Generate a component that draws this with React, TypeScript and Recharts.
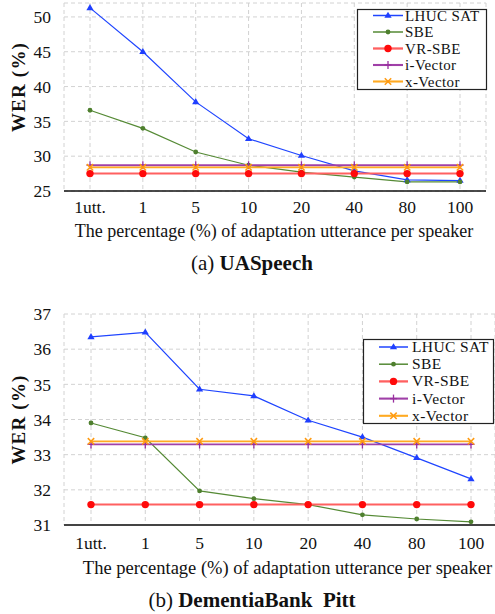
import React from 'react';
import { LineChart, Line, XAxis, YAxis, CartesianGrid, Legend, Label } from 'recharts';

const categories = ['1utt.', '1', '5', '10', '20', '40', '80', '100'];

// (a) UASpeech
const uaLhucSat = [51.3, 45.0, 37.8, 32.5, 30.1, 27.9, 26.6, 26.5];
const uaSbe = [36.6, 34.0, 30.6, 28.7, 27.7, 27.0, 26.3, 26.3];
const uaVrSbe = [27.5, 27.5, 27.5, 27.5, 27.5, 27.5, 27.5, 27.5];
const uaIVector = [28.7, 28.7, 28.7, 28.7, 28.7, 28.7, 28.7, 28.7];
const uaXVector = [28.4, 28.4, 28.4, 28.4, 28.4, 28.4, 28.4, 28.4];
const uaTicks = [25, 30, 35, 40, 45, 50];

// (b) DementiaBank Pitt
const dbLhucSat = [36.35, 36.48, 34.86, 34.67, 33.98, 33.5, 32.91, 32.31];
const dbSbe = [33.9, 33.48, 31.97, 31.75, 31.58, 31.29, 31.17, 31.09];
const dbVrSbe = [31.58, 31.58, 31.58, 31.58, 31.58, 31.58, 31.58, 31.58];
const dbIVector = [33.29, 33.29, 33.29, 33.29, 33.29, 33.29, 33.29, 33.29];
const dbXVector = [33.38, 33.38, 33.38, 33.38, 33.38, 33.38, 33.38, 33.38];
const dbTicks = [31, 32, 33, 34, 35, 36, 37];

const seriesNames = ['LHUC SAT', 'SBE', 'VR-SBE', 'i-Vector', 'x-Vector'];

const FONT = "'Liberation Serif', 'Times New Roman', serif";

type Shape = 'triangle' | 'dot' | 'circle' | 'plus' | 'cross';
const seriesStyle: { key: string; color: string; line: string; width: number; shape: Shape }[] = [
  { key: 'lhuc', color: '#1f3fff', line: '#1f45ff', width: 1.2, shape: 'triangle' },
  { key: 'sbe', color: '#4e7f2e', line: '#558a35', width: 1.2, shape: 'dot' },
  { key: 'vr', color: '#ff0a0a', line: '#ff6060', width: 2, shape: 'circle' },
  { key: 'iv', color: '#992f9f', line: '#a040a8', width: 1.8, shape: 'plus' },
  { key: 'xv', color: '#ff9a10', line: '#ffaa22', width: 1.8, shape: 'cross' },
];

function marker(shape: Shape, cx: number, cy: number, color: string, key?: string | number) {
  switch (shape) {
    case 'triangle': {
      const s = 3.8;
      return (
        <path key={key} d={`M${cx},${cy - s} L${cx + s * 0.95},${cy + s * 0.6} L${cx - s * 0.95},${cy + s * 0.6} Z`} fill={color} />
      );
    }
    case 'dot':
      return <circle key={key} cx={cx} cy={cy} r={2.4} fill={color} />;
    case 'circle':
      return <circle key={key} cx={cx} cy={cy} r={3.7} fill={color} />;
    case 'plus':
      return (
        <g key={key}>
          <line x1={cx - 3.5} x2={cx + 3.5} y1={cy} y2={cy} stroke={color} strokeWidth={1.3} />
          <line x1={cx} x2={cx} y1={cy - 4} y2={cy + 4} stroke={color} strokeWidth={1.3} />
        </g>
      );
    case 'cross':
    default:
      return (
        <g key={key}>
          <line x1={cx - 3.2} x2={cx + 3.2} y1={cy - 3.2} y2={cy + 3.2} stroke={color} strokeWidth={1.5} />
          <line x1={cx - 3.2} x2={cx + 3.2} y1={cy + 3.2} y2={cy - 3.2} stroke={color} strokeWidth={1.5} />
        </g>
      );
  }
}

function buildData(cols: number[][]) {
  return categories.map((c, i) => {
    const row: any = { cat: c };
    seriesStyle.forEach((s, j) => {
      row[s.key] = cols[j][i];
    });
    return row;
  });
}

const uaData = buildData([uaLhucSat, uaSbe, uaVrSbe, uaIVector, uaXVector]);
const dbData = buildData([dbLhucSat, dbSbe, dbVrSbe, dbIVector, dbXVector]);

function LegendBox({ w, h, rowStart, rowStep, lineX1, lineX2, textX, fontSize }: any) {
  return (
    <svg width={w} height={h} style={{ display: 'block', overflow: 'visible' }}>
      <rect x={0.5} y={0.5} width={w - 1} height={h - 1} fill="#fff" stroke="#222" strokeWidth={1.2} />
      {seriesStyle.map((s, i) => {
        const cy = rowStart + i * rowStep;
        return (
          <g key={s.key}>
            <line x1={lineX1} x2={lineX2} y1={cy} y2={cy} stroke={s.line} strokeWidth={s.width + 0.3} />
            {marker(s.shape, (lineX1 + lineX2) / 2, cy, s.color)}
            <text x={textX} y={cy + 5} fontSize={fontSize} fontFamily={FONT} fill="#111" letterSpacing={0.4}>
              {seriesNames[i]}
            </text>
          </g>
        );
      })}
    </svg>
  );
}

function Panel(props: {
  data: any[];
  width: number;
  height: number;
  margin: any;
  domain: [number, number];
  ticks: number[];
  xPad: { left: number; right: number };
  xAxisHeight: number;
  tickMarginX: number;
  xLabelDx: number;
  xLabelSize: number;
  yLabelDy: number;
  axisColor: string;
  axisWidth: number;
  legend: any;
}) {
  const p = props;
  return (
    <LineChart width={p.width} height={p.height} data={p.data} margin={p.margin}>
      <CartesianGrid stroke="#d2d2d2" strokeDasharray="4 3" />
      <XAxis
        dataKey="cat"
        interval={0}
        padding={p.xPad}
        height={p.xAxisHeight}
        tickSize={0}
        tickLine={false}
        tickMargin={p.tickMarginX}
        axisLine={{ stroke: p.axisColor, strokeWidth: p.axisWidth }}
        tick={{ fontSize: 17.5, fill: '#111', fontFamily: FONT }}
      >
        <Label
          content={(lp: any) => {
            const vb = lp.viewBox;
            const x = vb.x + vb.width / 2 + p.xLabelDx;
            const y = vb.y + vb.height - 8;
            return (
              <text x={x} y={y} textAnchor="middle" fontSize={p.xLabelSize} fontFamily={FONT} fill="#111">
                The percentage (%) of adaptation utterance per speaker
              </text>
            );
          }}
        />
      </XAxis>
      <YAxis
        width={64}
        domain={p.domain}
        ticks={p.ticks}
        type="number"
        allowDataOverflow
        axisLine={false}
        tickLine={false}
        tickSize={0}
        tickMargin={13}
        tick={{ fontSize: 17.5, fill: '#111', fontFamily: FONT }}
      >
        <Label
          content={(lp: any) => {
            const vb = lp.viewBox;
            const x = 18;
            const y = vb.y + vb.height / 2 + p.yLabelDy;
            return (
              <text
                x={x}
                y={y}
                transform={`rotate(-90 ${x} ${y})`}
                textAnchor="middle"
                dominantBaseline="central"
                fontSize={19}
                letterSpacing={1.2}
                fontWeight="bold"
                fontFamily={FONT}
                fill="#111"
              >
                WER (%)
              </text>
            );
          }}
        />
      </YAxis>
      <Legend
        layout="vertical"
        align="center"
        verticalAlign="middle"
        wrapperStyle={{ left: p.legend.left, top: p.legend.top, width: p.legend.w, height: p.legend.h, right: 'auto', bottom: 'auto' }}
        content={() => <LegendBox {...p.legend} />}
      />
      {seriesStyle.map((s, i) => (
        <Line
          key={s.key}
          dataKey={s.key}
          name={seriesNames[i]}
          stroke={s.line}
          strokeWidth={s.width}
          isAnimationActive={false}
          dot={(dp: any) => marker(s.shape, dp.cx, dp.cy, s.color, `${s.key}-${dp.index}`)}
          activeDot={false}
        />
      ))}
    </LineChart>
  );
}

export default function App() {
  return (
    <div style={{ position: 'absolute', left: 0, top: 0, width: 495, height: 614, background: '#fff', fontFamily: FONT }}>
      <div style={{ position: 'absolute', left: 0, top: 0 }}>
        <Panel
          data={uaData}
          width={495}
          height={245}
          margin={{ top: 3, right: 9, left: 0, bottom: 0 }}
          domain={[25, 52]}
          ticks={uaTicks}
          xPad={{ left: 26, right: 26 }}
          xAxisHeight={54}
          tickMarginX={10}
          xLabelDx={-1}
          xLabelSize={18}
          yLabelDy={-10}
          axisColor="#111"
          axisWidth={1.5}
          legend={{ left: 357, top: 9, w: 130, h: 81, rowStart: 6.5, rowStep: 16.5, lineX1: 16, lineX2: 46, textX: 48, fontSize: 15 }}
        />
      </div>
      <div style={{ position: 'absolute', left: 0, top: 300 }}>
        <Panel
          data={dbData}
          width={495}
          height={282}
          margin={{ top: 14, right: 0, left: 0, bottom: 0 }}
          domain={[31, 37]}
          ticks={dbTicks}
          xPad={{ left: 27, right: 24 }}
          xAxisHeight={57}
          tickMarginX={12}
          xLabelDx={8}
          xLabelSize={18.5}
          yLabelDy={0}
          axisColor="#444"
          axisWidth={2}
          legend={{ left: 363, top: 39, w: 131, h: 85, rowStart: 8, rowStep: 17.2, lineX1: 16, lineX2: 45, textX: 49, fontSize: 15.5 }}
        />
      </div>
      <svg width={495} height={614} style={{ position: 'absolute', left: 0, top: 0, pointerEvents: 'none' }}>
        <text x={252} y={270} textAnchor="middle" fontSize={21} fontFamily={FONT} fill="#111">
          <tspan>(a) </tspan>
          <tspan fontWeight="bold">UASpeech</tspan>
        </text>
        <text x={252} y={607} textAnchor="middle" fontSize={21} fontFamily={FONT} fill="#111" style={{ whiteSpace: 'pre' }}>
          <tspan>(b) </tspan>
          <tspan fontWeight="bold">{'DementiaBank\u00a0\u00a0Pitt'}</tspan>
        </text>
      </svg>
    </div>
  );
}
